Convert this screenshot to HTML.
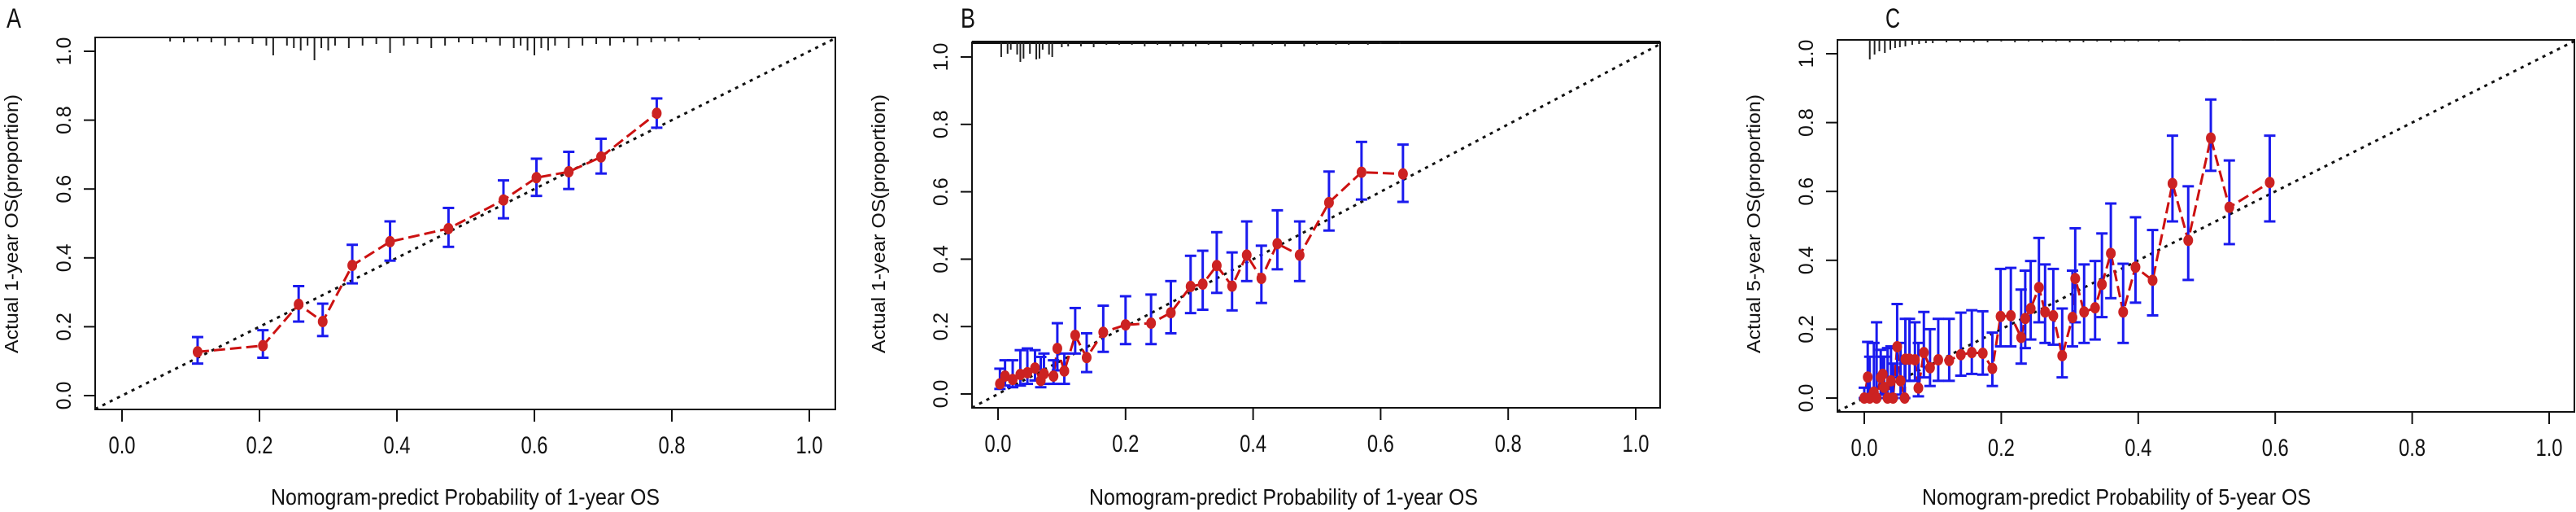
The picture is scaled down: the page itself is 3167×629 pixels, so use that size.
<!DOCTYPE html>
<html><head><meta charset="utf-8"><style>
html,body{margin:0;padding:0;background:#fff}
svg{display:block}
text{font-family:"Liberation Sans",sans-serif;fill:#111}
</style></head><body>
<svg id="chart" width="3167" height="629" viewBox="0 0 3167 629" xmlns="http://www.w3.org/2000/svg"></svg>
<script>
// Panel A data
const aX = [0.11,0.205,0.257,0.292,0.335,0.39,0.475,0.555,0.603,0.65,0.697,0.778];
const aY = [0.127,0.145,0.265,0.215,0.378,0.447,0.485,0.568,0.633,0.65,0.693,0.82];
const aLo = [0.093,0.11,0.215,0.173,0.326,0.392,0.432,0.515,0.58,0.6,0.645,0.778];
const aHi = [0.17,0.19,0.318,0.267,0.438,0.506,0.545,0.625,0.688,0.708,0.746,0.863];
const aRug = [0.07,0.09,0.11,0.13,0.15,0.17,0.19,0.21,0.22,0.24,0.25,0.26,0.27,0.28,0.29,0.3,0.31,0.33,0.35,0.37,0.39,0.41,0.43,0.45,0.47,0.49,0.51,0.53,0.55,0.57,0.58,0.59,0.6,0.61,0.62,0.63,0.65,0.67,0.69,0.71,0.73,0.75,0.77,0.79,0.81,0.84];
const aRugH = [5,6,5,6,10,6,8,10,22,10,13,16,10,28,13,16,10,13,10,8,19,10,8,13,10,6,8,6,10,13,10,16,22,13,16,10,13,10,8,10,6,10,6,5,5,3];
// Panel B data
const bX = [0.003,0.011,0.023,0.035,0.046,0.058,0.067,0.072,0.087,0.093,0.104,0.121,0.139,0.165,0.2,0.24,0.271,0.302,0.321,0.343,0.367,0.39,0.413,0.438,0.473,0.519,0.57,0.635];
const bY = [0.03,0.053,0.043,0.058,0.063,0.077,0.04,0.06,0.053,0.135,0.068,0.174,0.108,0.183,0.205,0.21,0.241,0.319,0.326,0.381,0.32,0.412,0.343,0.446,0.412,0.568,0.658,0.653];
const bLo = [0.015,0.025,0.02,0.025,0.03,0.04,0.02,0.03,0.03,0.07,0.03,0.12,0.065,0.125,0.148,0.148,0.18,0.24,0.25,0.3,0.248,0.335,0.27,0.37,0.335,0.485,0.577,0.57];
const bHi = [0.075,0.1,0.1,0.13,0.135,0.13,0.11,0.12,0.1,0.21,0.12,0.255,0.18,0.262,0.29,0.295,0.335,0.41,0.425,0.48,0.42,0.512,0.44,0.545,0.512,0.66,0.748,0.74];
const bRug = [0.005,0.015,0.02,0.03,0.035,0.04,0.05,0.06,0.065,0.07,0.08,0.085,0.1,0.11,0.13,0.15,0.17,0.19,0.21,0.23,0.25,0.27,0.29,0.31,0.33,0.35,0.38,0.4,0.43,0.45,0.48,0.5,0.53,0.55,0.58,0.6,0.63];
const bRug2 = [18,14,9,15,24,20,14,21,20,9,15,18,6,5,5,6,3,3,3,5,3,5,5,5,3,6,3,5,3,5,5,3,3,3,3,2,2];
// Panel C data
const cX = [0.005,0.0,0.008,0.014,0.018,0.024,0.027,0.029,0.034,0.039,0.042,0.048,0.053,0.059,0.06,0.066,0.074,0.079,0.087,0.096,0.108,0.124,0.141,0.157,0.173,0.187,0.199,0.214,0.229,0.235,0.243,0.255,0.264,0.276,0.289,0.304,0.308,0.321,0.337,0.347,0.36,0.378,0.396,0.421,0.45,0.473,0.506,0.533,0.592];
const cY = [0.061,0,0,0.017,0,0.06,0.069,0.031,0,0.05,0,0.149,0.05,0,0.113,0.113,0.111,0.029,0.132,0.088,0.111,0.109,0.126,0.132,0.13,0.086,0.237,0.239,0.176,0.231,0.26,0.321,0.25,0.239,0.123,0.234,0.347,0.25,0.262,0.33,0.42,0.25,0.38,0.342,0.623,0.458,0.755,0.554,0.626];
const cLo = [0,0,0,0,0,0.01,0.01,0,0,0,0,0.06,0.01,0,0.05,0.05,0.05,0.005,0.06,0.035,0.05,0.05,0.065,0.07,0.068,0.035,0.15,0.15,0.1,0.145,0.17,0.22,0.16,0.155,0.06,0.15,0.22,0.16,0.17,0.235,0.29,0.16,0.277,0.24,0.513,0.343,0.66,0.447,0.513];
const cHi = [0.163,0.03,0.12,0.16,0.22,0.14,0.12,0.12,0.145,0.15,0.1,0.273,0.16,0.1,0.23,0.23,0.22,0.16,0.25,0.2,0.23,0.23,0.248,0.255,0.252,0.19,0.375,0.378,0.315,0.37,0.398,0.465,0.388,0.375,0.26,0.37,0.493,0.388,0.398,0.478,0.565,0.39,0.525,0.488,0.762,0.615,0.867,0.69,0.762];
const cRug = [0.008,0.015,0.022,0.03,0.038,0.045,0.052,0.06,0.07,0.08,0.09,0.1,0.12,0.14,0.16,0.18,0.2,0.22,0.24,0.26,0.28,0.3,0.32,0.34,0.36,0.38,0.4,0.43,0.46,0.5,0.55,0.6];
const cRugH = [24,18,14,16,12,10,9,8,6,5,4,4,3,3,3,3,2,3,2,3,2,3,3,2,3,2,2,2,2,1,1,1];

const xTicks = [0,0.2,0.4,0.6,0.8,1.0];
const xTickLabels = ["0.0","0.2","0.4","0.6","0.8","1.0"];
const yTicks = [0,0.2,0.4,0.6,0.8,1.0];
const yTickLabels = ["0.0","0.2","0.4","0.6","0.8","1.0"];

const svg = document.getElementById('chart');
const NS = 'http://www.w3.org/2000/svg';
function el(tag, attrs, parent){
  const e = document.createElementNS(NS, tag);
  for (const k in attrs) e.setAttribute(k, attrs[k]);
  (parent||svg).appendChild(e);
  return e;
}

function panel(cfg){
  const g = el('g', {});
  
  
  const xs = v => cfg.x0 + v*(cfg.x1-cfg.x0);
  const ys = v => cfg.y0 + v*(cfg.y1-cfg.y0);
  const L = el('text', {x: cfg.lx, y: 34, 'font-size': 34, textLength: 18, lengthAdjust:'spacingAndGlyphs'}, g);
  L.textContent = cfg.letter;
  
  
  const box = el('rect', {x: cfg.bx0, y: cfg.by0, width: cfg.bx1-cfg.bx0, height: cfg.by1-cfg.by0, fill:'none', stroke:'#111', 'stroke-width':2}, g);
  
  
  if (cfg.thickTop) {
    const tb = el('line', {x1: cfg.bx0, x2: cfg.bx1, y1: cfg.by0, y2: cfg.by0, stroke:'#111', 'stroke-width':4}, g);
    
    
  }
  const dStart = Math.max((cfg.bx0-cfg.x0)/(cfg.x1-cfg.x0), (cfg.by1-cfg.y0)/(cfg.y1-cfg.y0));
  const dEnd = Math.min((cfg.bx1-cfg.x0)/(cfg.x1-cfg.x0), (cfg.by0-cfg.y0)/(cfg.y1-cfg.y0));
  const diag = el('line', {x1: xs(dStart), y1: ys(dStart), x2: xs(dEnd), y2: ys(dEnd), stroke:'#111', 'stroke-width':3, 'stroke-dasharray':'4 6'}, g);
  
  
  cfg.rug.forEach((r,i)=>{
    const t = el('line', {x1: xs(r), x2: xs(r), y1: cfg.by0, y2: cfg.by0 + cfg.rugH[i], stroke:'#222', 'stroke-width':2}, g);
    
    
  });
  xTicks.forEach((v,i)=>{
    const t = el('line', {x1: xs(v), x2: xs(v), y1: cfg.by1, y2: cfg.by1+15, stroke:'#111', 'stroke-width':2}, g);
    
    
    const tl = el('text', {x: xs(v), y: cfg.by1+54, 'font-size': 30, 'text-anchor':'middle', textLength: 33, lengthAdjust:'spacingAndGlyphs'}, g);
    tl.textContent = xTickLabels[i];
    
    
  });
  yTicks.forEach((v,i)=>{
    const t = el('line', {x1: cfg.bx0-14, x2: cfg.bx0, y1: ys(v), y2: ys(v), stroke:'#111', 'stroke-width':2}, g);
    
    
    const tx = cfg.bx0 - 30, ty = ys(v);
    const tl = el('text', {x: tx, y: ty, 'font-size': 25, 'text-anchor':'middle', transform:`rotate(-90 ${tx} ${ty})`}, g);
    tl.textContent = yTickLabels[i];
    
    
  });
  const xt = el('text', {x: (cfg.bx0+cfg.bx1)/2 + cfg.xtOff, y: 620, 'font-size': 28, 'text-anchor':'middle', textLength: 478, lengthAdjust:'spacingAndGlyphs'}, g);
  xt.textContent = cfg.xtitle;
  
  
  const yx = cfg.ytx, yy = 275;
  const yt = el('text', {x: yx, y: yy, 'font-size': 23, 'text-anchor':'middle', transform:`rotate(-90 ${yx} ${yy})`, textLength: 318, lengthAdjust:'spacingAndGlyphs'}, g);
  yt.textContent = cfg.ytitle;
  
  
  const pts = cfg.X.map((x,i)=> xs(x)+','+ys(cfg.Y[i])).join(' ');
  const pl = el('polyline', {points: pts, fill:'none', stroke:'#cc1111', 'stroke-width':3, 'stroke-dasharray':'14 6'}, g);
  
  
  cfg.X.forEach((x,i)=>{
    const eg = el('g', {stroke:'#1a1aee', 'stroke-width':3}, g);
    
    
    el('line', {x1: xs(x), x2: xs(x), y1: ys(cfg.Lo[i]), y2: ys(cfg.Hi[i])}, eg);
    el('line', {x1: xs(x)-7, x2: xs(x)+7, y1: ys(cfg.Lo[i]), y2: ys(cfg.Lo[i])}, eg);
    el('line', {x1: xs(x)-7, x2: xs(x)+7, y1: ys(cfg.Hi[i]), y2: ys(cfg.Hi[i])}, eg);
  });
  cfg.X.forEach((x,i)=>{
    const c = el('ellipse', {cx: xs(x), cy: ys(cfg.Y[i]), rx: 6, ry: 7, fill:'#cc2222'}, g);
    
    
  });
}

panel({letter:'A', lx:8, bx0:117, bx1:1027, by0:46, by1:503, x0:150, x1:995, y0:486, y1:63,
  X:aX, Y:aY, Lo:aLo, Hi:aHi, rug:aRug, rugH:aRugH, ytx:22, xtOff:0,
  xtitle:'Nomogram-predict Probability of 1-year OS', ytitle:'Actual 1-year OS(proportion)'});
panel({letter:'B', lx:1181, bx0:1195, bx1:2041, by0:52, by1:501, x0:1227, x1:2011, y0:484, y1:70, thickTop:true,
  X:bX, Y:bY, Lo:bLo, Hi:bHi, rug:bRug, rugH:bRug2, ytx:1088, xtOff:-40,
  xtitle:'Nomogram-predict Probability of 1-year OS', ytitle:'Actual 1-year OS(proportion)'});
panel({letter:'C', lx:2318, bx0:2259, bx1:3165, by0:49, by1:506, x0:2292, x1:3134, y0:489, y1:66,
  X:cX, Y:cY, Lo:cLo, Hi:cHi, rug:cRug, rugH:cRugH, ytx:2164, xtOff:-110,
  xtitle:'Nomogram-predict Probability of 5-year OS', ytitle:'Actual 5-year OS(proportion)'});
</script>
</body></html>
